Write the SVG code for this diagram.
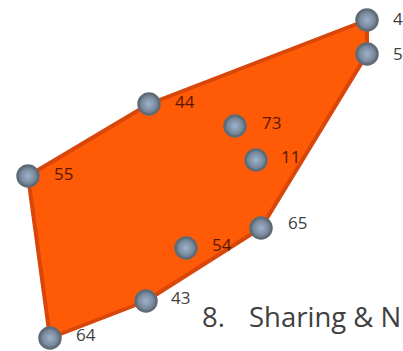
<svg xmlns="http://www.w3.org/2000/svg" width="403" height="351" viewBox="0 0 403 351">
<defs>
<radialGradient id="g" cx="50%" cy="50%" r="50%">
<stop offset="0" stop-color="#9fb2cc"/>
<stop offset="0.6" stop-color="#7f90a4"/>
<stop offset="1" stop-color="#66737f"/>
</radialGradient>
</defs>
<style>
.n{fill:url(#g);stroke:#5f6c78;stroke-width:2.5}
.l{font-family:"Open Sans","Liberation Sans",sans-serif;font-size:17px;fill:#404040}
.d{fill:#5a1800}
.t{font-family:"Open Sans","Liberation Sans",sans-serif;font-size:27.5px;fill:#404040}
</style>
<rect width="403" height="351" fill="#ffffff"/>
<g id="edges">
<polygon points="50,338 28,176 149,104 367,20 367,54 261,228 146,301" fill="#ff5a06" stroke="#d8460a" stroke-width="4" stroke-linejoin="round"/>
</g>
<g id="n4"><circle class="n" cx="367" cy="20" r="10.5"/><text class="l" x="393" y="25">4</text></g>
<g id="n5"><circle class="n" cx="367" cy="54" r="10.5"/><text class="l" x="393" y="60">5</text></g>
<g id="n44"><circle class="n" cx="149" cy="104" r="10.5"/><text class="l d" x="175" y="108">44</text></g>
<g id="n55"><circle class="n" cx="28" cy="176" r="10.5"/><text class="l d" x="54" y="180">55</text></g>
<g id="n73"><circle class="n" cx="235" cy="126" r="10.5"/><text class="l d" x="262" y="129">73</text></g>
<g id="n11"><circle class="n" cx="256" cy="160" r="10.5"/><text class="l d" x="281" y="163">11</text></g>
<g id="n65"><circle class="n" cx="261" cy="228" r="10.5"/><text class="l" x="288" y="229">65</text></g>
<g id="n54"><circle class="n" cx="186" cy="248" r="10.5"/><text class="l d" x="212" y="251">54</text></g>
<g id="n43"><circle class="n" cx="146" cy="301" r="10.5"/><text class="l" x="171" y="304">43</text></g>
<g id="n64"><circle class="n" cx="50" cy="338" r="10.5"/><text class="l" x="76" y="341">64</text></g>
<text class="t" x="202" y="327">8.</text>
<text class="t" x="249" y="327">Sharing &amp; N</text>
</svg>
